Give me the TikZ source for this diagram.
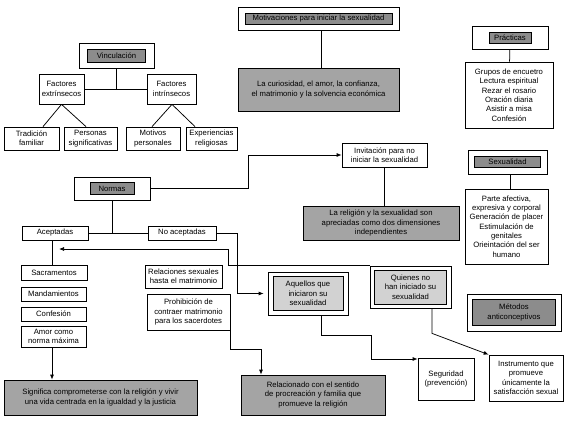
\documentclass[tikz,border=0pt]{standalone}
\usepackage{fontspec}
\setmainfont{Liberation Sans}
\usetikzlibrary{arrows.meta, positioning}
\definecolor{mtag}{HTML}{8C8C8C}
\definecolor{mfill}{HTML}{A4A4A4}
\definecolor{mlight}{HTML}{D2D2D2}
\tikzset{
  wh/.style 2 args={minimum width=#1pt, minimum height=#2pt},
  wbox/.style={draw, fill=white, align=center, inner sep=1pt},
  gbox/.style={draw, fill=mfill, align=center, inner sep=1pt},
  tagbox/.style={draw, fill=mtag, align=center, inner sep=1pt},
  lbox/.style={draw, fill=mlight, align=center, inner sep=1pt},
  arr/.style={-{Latex[length=5pt,width=4pt]}},
}

\begin{document}
\begin{tikzpicture}[x=1pt, y=-1pt, line width=0.75pt,
  every node/.style={font=\fontsize{7.7}{9.3}\selectfont}]
  \useasboundingbox (0,0) rectangle (567,420);

  \node[wbox, wh={75}{25}] (vinc) at (116.5,55.5) {};
  \node[tagbox, wh={58}{13}] (vinctag) at (vinc) {Vinculación};
  \node[wbox, wh={45}{30}] (factext) at (61.5,89) {Factores\\extrínsecos};
  \node[wbox, wh={49}{30}] (factint) at (171.5,89) {Factores\\intrínsecos};
  \node[wbox, wh={55}{23}] (tradicion) at (31.5,138.5) {Tradición\\familiar};
  \node[wbox, wh={53}{23}] (personas) at (90.5,138.5) {Personas\\significativas};
  \node[wbox, wh={54}{23}] (motivos) at (153,138.5) {Motivos\\personales};
  \node[wbox, wh={51}{23}] (experiencias) at (211.5,138.5) {Experiencias\\religiosas};

  \node[wbox, wh={161}{23}] (motiv) at (318.5,18.5) {};
  \node[tagbox, wh={147}{11}] (motivtag) at (motiv) {Motivaciones para iniciar la sexualidad};
  \node[gbox, wh={161}{43}] (curiosidad) at (318.5,89.5) {La curiosidad, el amor, la confianza,\\el matrimonio y la solvencia económica};

  \node[wbox, wh={76}{23}] (pract) at (510,37.5) {};
  \node[tagbox, wh={42}{11}] (practtag) at (pract) {Prácticas};
  \node[wbox, wh={88}{66}] (practlist) at (509,95) {Grupos de encuetro\\Lectura espiritual\\Rezar el rosario\\Oración diaria\\Asistir a misa\\Confesión};

  \node[wbox, wh={79}{24}] (sexo) at (507.5,162) {};
  \node[tagbox, wh={66}{11}] (sexotag) at (sexo) {Sexualidad};
  \node[wbox, wh={83}{75}] (sexolist) at (506.5,226.5) {Parte afectiva,\\expresiva y corporal\\Generación de placer\\Estimulación de\\genitales\\Orieintación del ser\\humano};

  \node[wbox, wh={85}{24}] (invitacion) at (384.5,155) {Invitación para no\\iniciar la sexualidad};
  \node[gbox, wh={156}{34}] (religion) at (381,223) {La religión y la sexualidad son\\apreciadas como dos dimensiones\\independientes};

  \node[wbox, wh={76}{23}] (normas) at (112,188.5) {};
  \node[tagbox, wh={44}{12}] (normastag) at (normas) {Normas};
  \node[wbox, wh={66}{14}] (aceptadas) at (55,233) {Aceptadas};
  \node[wbox, wh={68}{14}] (noacept) at (182,233) {No aceptadas};
  \node[wbox, wh={66}{15}] (sacramentos) at (54,272.5) {Sacramentos};
  \node[wbox, wh={65}{14}] (mandamientos) at (53.5,294) {Mandamientos};
  \node[wbox, wh={65}{14}] (confesion) at (53.5,314) {Confesión};
  \node[wbox, wh={65}{21}] (amor) at (53.5,336.5) {Amor como\\norma máxima};
  \node[gbox, wh={193}{35}] (significa) at (100.5,397.5) {Significa comprometerse con la religión y vivir\\una vida centrada en la igualdad y la justicia};

  \node[wbox, wh={77}{23}] (relaciones) at (183.5,276.5) {Relaciones sexuales\\hasta el matrimonio};
  \node[wbox, wh={83}{36}] (prohibicion) at (188.5,312) {Prohibición de\\contraer matrimonio\\para los sacerdotes};
  \node[gbox, wh={144}{40}] (relacionado) at (313,395) {Relacionado con el sentido\\de procreación y familia que\\promueve la religión};

  \node[wbox, wh={80}{43}] (aquellos) at (308,293.5) {};
  \node[lbox, wh={70}{34}] (aquellostag) at (aquellos) {Aquellos que\\iniciaron su\\sexualidad};
  \node[wbox, wh={81}{42}] (quienes) at (410.5,287) {};
  \node[lbox, wh={72}{34}] (quienestag) at (quienes) {Quienes no\\han iniciado su\\sexualidad};
  \node[wbox, wh={94}{37}] (metodos) at (514,312.5) {};
  \node[tagbox, wh={83}{26}] (metodostag) at (metodos) {Métodos\\anticonceptivos};
  \node[wbox, wh={56}{42}] (seguridad) at (446,379) {Seguridad\\(prevención)};
  \node[wbox, wh={74}{46}] (instrumento) at (526,378) {Instrumento que\\promueve\\únicamente la\\satisfacción sexual};

  \coordinate (retorno) at (59,249);

  \draw (vinc) -- (vinc |- factext.east);
  \draw (factext) -- (factint);
  \draw (factext.south) -- ([xshift=11.5pt]tradicion.north);
  \draw (factext.south) -- ([xshift=-4.5pt]personas.north);
  \draw ([xshift=0.5pt]factint.south) -- ([xshift=-1pt]motivos.north);
  \draw ([xshift=0.5pt]factint.south) -- ([xshift=-16.5pt]experiencias.north);
  \draw ([xshift=2.5pt]motiv.south) -- ([xshift=2.5pt]curiosidad.north);
  \draw (pract) -- (practlist);
  \draw ([xshift=2.5pt]sexo.south) -- ([xshift=3.5pt]sexolist.north);
  \draw[arr] (normas.east) -- ++(98,0) |- (invitacion.west);
  \draw ([xshift=-0.5pt]invitacion.south) -- ([xshift=3pt]religion.north);
  \draw (normas) -- (normas |- aceptadas);
  \draw (aceptadas) -- (noacept);
  \draw ([xshift=-3pt]aceptadas.south) -- ([xshift=-2pt]sacramentos.north);
  \draw[arr] ([xshift=-1.5pt]amor.south) -- ([xshift=-1.5pt]amor.south |- significa.north);
  \draw[arr, shorten >=4pt] (noacept.east) -- ++(21,0) |- (aquellos.west);
  \draw[arr] (quienes.north west) -- ++(-141,0) |- (retorno);
  \draw[arr] (prohibicion.south east) -- ++(0,19) -| ([xshift=-52pt]relacionado.north);
  \draw[arr] ([xshift=13pt]aquellos.south) -- ++(0,20) -- ++(50,0) |- ([yshift=20pt]seguridad.west);
  \draw[arr] ([xshift=21.5pt]quienes.south) -- ++(0,25) -- (instrumento.north west);
\end{tikzpicture}
\end{document}
